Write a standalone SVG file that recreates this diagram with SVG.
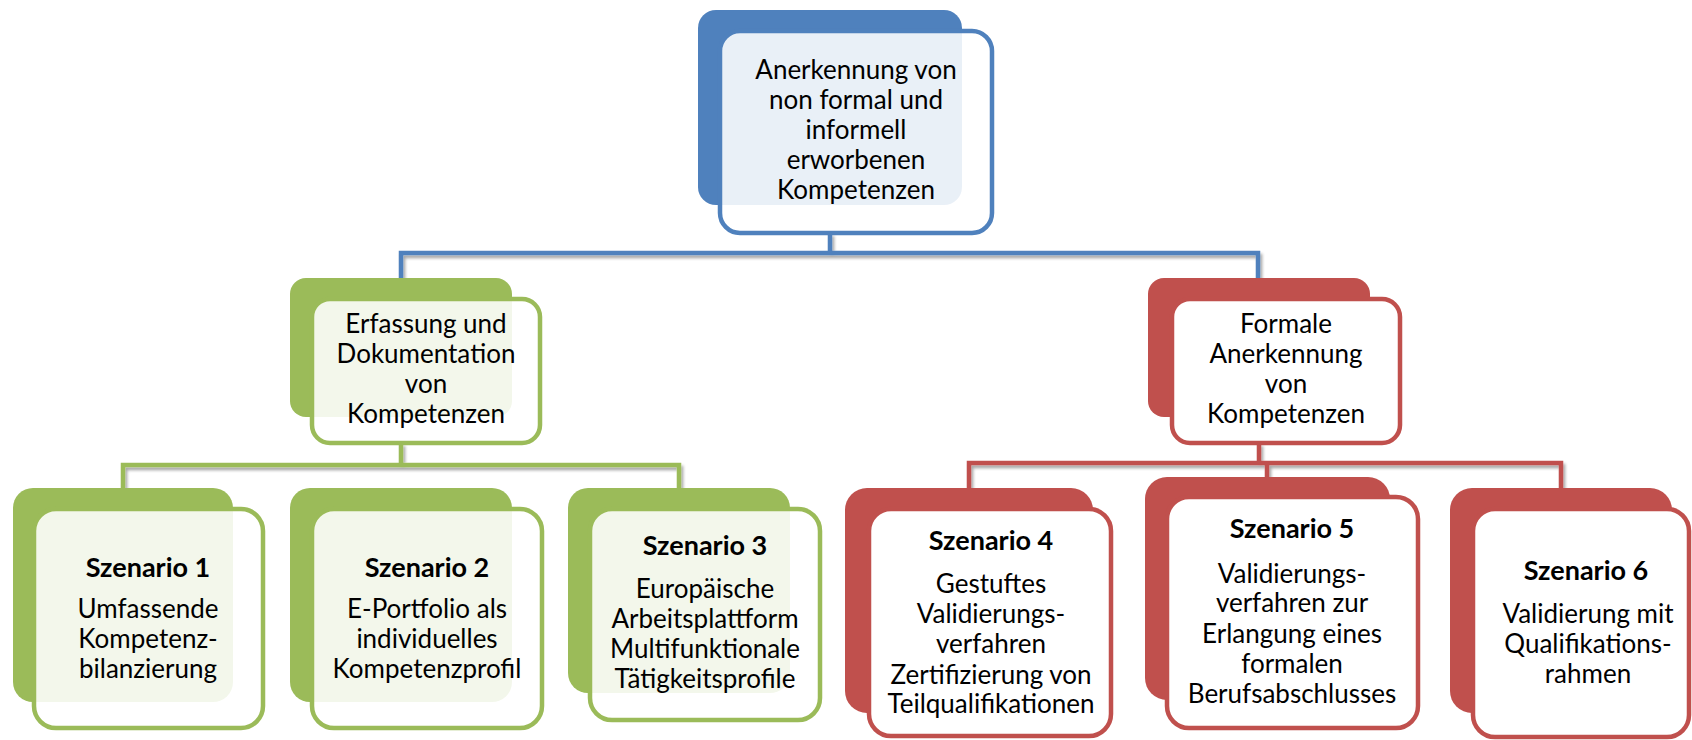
<svg xmlns="http://www.w3.org/2000/svg" width="1692" height="740" viewBox="0 0 1692 740">
<defs>
<filter id="sh" x="-5%" y="-50%" width="110%" height="200%">
<feGaussianBlur in="SourceAlpha" stdDeviation="1.5"/>
<feOffset dx="1.5" dy="3" result="b"/>
<feComponentTransfer><feFuncA type="linear" slope="0.35"/></feComponentTransfer>
<feMerge><feMergeNode/><feMergeNode in="SourceGraphic"/></feMerge>
</filter>
<style>
.t{font-family:Lato,"Liberation Sans",sans-serif;font-size:26px;fill:#000;text-anchor:middle}
.b{font-weight:bold;font-size:27px}
.bkB{fill:#4F81BD}.bkG{fill:#9BBB59}.bkR{fill:#C0504D}
.frB{fill:#fff;fill-opacity:0.88;stroke:#4F81BD;stroke-width:4.5}
.frG{fill:#fff;fill-opacity:0.88;stroke:#9BBB59;stroke-width:4.5}
.frR{fill:#fff;stroke:#C0504D;stroke-width:4.5}
.cB{fill:none;stroke:#4F81BD;stroke-width:4.5}
.cG{fill:none;stroke:#9BBB59;stroke-width:4.5}
.cR{fill:none;stroke:#C0504D;stroke-width:4.5}
</style>
</defs>
<rect width="1692" height="740" fill="#fff"/>
<g id="connectors" filter="url(#sh)">
<path class="cB" d="M830 233V253M401 278V253H1258V278"/>
<path class="cG" d="M401 443V465M123 488V465H679V488"/>
<path class="cR" d="M1259 443V463M969 488V463H1561V488M1267 463V477"/>
</g>
<g id="root">
<rect class="bkB" x="698" y="10" width="264" height="195" rx="18"/>
<rect class="frB" x="720" y="31" width="272" height="202" rx="20"/>
<text class="t"><tspan x="856" y="79">Anerkennung von</tspan><tspan x="856" y="109">non formal und</tspan><tspan x="856" y="139">informell</tspan><tspan x="856" y="169">erworbenen</tspan><tspan x="856" y="199">Kompetenzen</tspan></text>
</g>
<g id="erfassung">
<rect class="bkG" x="290" y="278" width="222" height="139" rx="16"/>
<rect class="frG" x="312" y="299" width="228" height="144" rx="18"/>
<text class="t"><tspan x="426" y="333">Erfassung und</tspan><tspan x="426" y="363">Dokumentation</tspan><tspan x="426" y="393">von</tspan><tspan x="426" y="423">Kompetenzen</tspan></text>
</g>
<g id="formale">
<rect class="bkR" x="1148" y="278" width="222" height="139" rx="16"/>
<rect class="frR" x="1172" y="299" width="228" height="144" rx="18"/>
<text class="t"><tspan x="1286" y="333">Formale</tspan><tspan x="1286" y="363">Anerkennung</tspan><tspan x="1286" y="393">von</tspan><tspan x="1286" y="423">Kompetenzen</tspan></text>
</g>
<g id="szenario1">
<rect class="bkG" x="13" y="488" width="220" height="214" rx="20"/>
<rect class="frG" x="34" y="509" width="229" height="219" rx="22"/>
<text class="t"><tspan class="b" x="148" y="577">Szenario 1</tspan><tspan x="148" y="618">Umfassende</tspan><tspan x="148" y="648">Kompetenz-</tspan><tspan x="148" y="678">bilanzierung</tspan></text>
</g>
<g id="szenario2">
<rect class="bkG" x="290" y="488" width="222" height="214" rx="20"/>
<rect class="frG" x="312" y="509" width="230" height="219" rx="22"/>
<text class="t"><tspan class="b" x="427" y="577">Szenario 2</tspan><tspan x="427" y="618">E-Portfolio als</tspan><tspan x="427" y="648">individuelles</tspan><tspan x="427" y="678">Kompetenzprofil</tspan></text>
</g>
<g id="szenario3">
<rect class="bkG" x="568" y="488" width="222" height="205" rx="20"/>
<rect class="frG" x="590" y="509" width="230" height="211" rx="22"/>
<text class="t"><tspan class="b" x="705" y="555">Szenario 3</tspan><tspan x="705" y="598">Europäische</tspan><tspan x="705" y="628">Arbeitsplattform</tspan><tspan x="705" y="658">Multifunktionale</tspan><tspan x="705" y="688">Tätigkeitsprofile</tspan></text>
</g>
<g id="szenario4">
<rect class="bkR" x="845" y="488" width="248" height="225" rx="22"/>
<rect class="frR" x="869" y="509" width="242" height="227" rx="22"/>
<text class="t"><tspan class="b" x="991" y="550">Szenario 4</tspan><tspan x="991" y="593">Gestuftes</tspan><tspan x="991" y="623">Validierungs-</tspan><tspan x="991" y="653">verfahren</tspan><tspan x="991" y="684">Zertifizierung von</tspan><tspan x="991" y="713">Teilqualifikationen</tspan></text>
</g>
<g id="szenario5">
<rect class="bkR" x="1145" y="477" width="245" height="223" rx="22"/>
<rect class="frR" x="1167" y="497" width="251" height="231" rx="22"/>
<text class="t"><tspan class="b" x="1292" y="538">Szenario 5</tspan><tspan x="1292" y="583">Validierungs-</tspan><tspan x="1292" y="612">verfahren zur</tspan><tspan x="1292" y="643">Erlangung eines</tspan><tspan x="1292" y="673">formalen</tspan><tspan x="1292" y="703">Berufsabschlusses</tspan></text>
</g>
<g id="szenario6">
<rect class="bkR" x="1450" y="488" width="222" height="225" rx="22"/>
<rect class="frR" x="1473" y="509" width="216" height="228" rx="22"/>
<text class="t"><tspan class="b" x="1586" y="580">Szenario 6</tspan><tspan x="1588" y="623">Validierung mit</tspan><tspan x="1588" y="653">Qualifikations-</tspan><tspan x="1588" y="683">rahmen</tspan></text>
</g>
</svg>
